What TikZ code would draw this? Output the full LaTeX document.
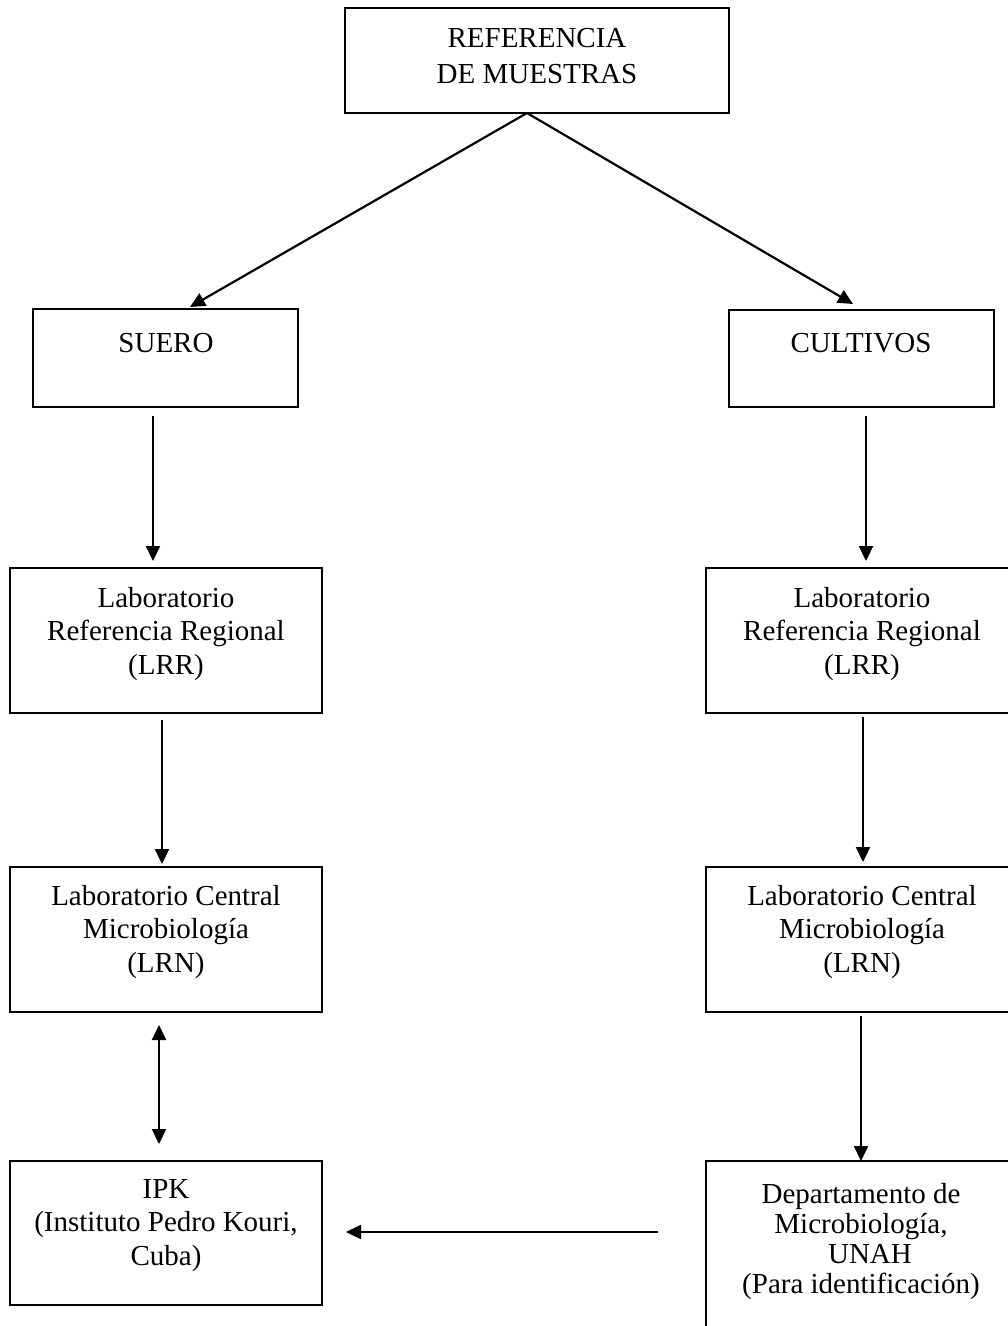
\documentclass[tikz,border=0pt]{standalone}
\usepackage{fontspec}
\setmainfont{Liberation Serif}
\usetikzlibrary{arrows.meta}
\newcommand{\mystrut}{\rule{0pt}{25pt}}
\begin{document}
\begin{tikzpicture}[x=1pt,y=-1pt,
  box/.style={draw, line width=2.4pt, inner sep=0pt, outer sep=0pt},
  txt/.style={inner sep=0pt, anchor=north, align=center,
    font=\fontsize{29}{33.5}\selectfont},
  tipA/.tip={Triangle[length=15pt,width=14pt]},
  arr/.style={line width=2.2pt, -tipA},
  darr/.style={line width=2.2pt, tipA-tipA}]
\useasboundingbox (0,0) rectangle (1008,1326);
\clip (0,0) rectangle (1008,1326);
% boxes
\node[box, minimum width=384pt, minimum height=105pt] (top) at (537,60.5) {};
\node[box, minimum width=265pt, minimum height=98pt] (suero) at (165.5,358) {};
\node[box, minimum width=265pt, minimum height=97pt] (cult) at (861.5,358.5) {};
\node[box, minimum width=312pt, minimum height=145pt] (lrrL) at (166,640.5) {};
\node[box, minimum width=312pt, minimum height=145pt] (lrrR) at (862,640.5) {};
\node[box, minimum width=312pt, minimum height=145pt] (lrnL) at (166,939.5) {};
\node[box, minimum width=312pt, minimum height=145pt] (lrnR) at (862,939.5) {};
\node[box, minimum width=312pt, minimum height=144pt] (ipk) at (166,1233) {};
\node[box, minimum width=312pt, minimum height=180pt] (depto) at (862,1251) {};
% texts
\node[txt, font=\fontsize{29}{36}\selectfont] (ttop) at (537,22) {\mystrut REFERENCIA\\DE MUESTRAS};
\node[txt] (tsuero) at (166,327) {\mystrut SUERO};
\node[txt] (tcult) at (861,327) {\mystrut CULTIVOS};
\node[txt] (tlrrL) at (166,582) {\mystrut Laboratorio\\Referencia Regional\\(LRR)};
\node[txt] (tlrrR) at (862,582) {\mystrut Laboratorio\\Referencia Regional\\(LRR)};
\node[txt] (tlrnL) at (166,880) {\mystrut Laboratorio Central\\Microbiología\\(LRN)};
\node[txt] (tlrnR) at (862,880) {\mystrut Laboratorio Central\\Microbiología\\(LRN)};
\node[txt] (tipk) at (166,1173) {\mystrut IPK\\(Instituto Pedro Kouri,\\Cuba)};
\node[txt, font=\fontsize{29}{30}\selectfont] (tdepto) at (861,1178) {\mystrut Departamento de\\Microbiología,\\\hspace*{18pt}UNAH\\(Para identificación)};
% connectors
\draw[arr] ([xshift=-10pt]top.south) -- ([xshift=24.5pt,yshift=2pt]suero.north);
\draw[arr] ([xshift=-10pt]top.south) -- ([xshift=-8.5pt,yshift=6pt]cult.north);
\draw[arr] ([xshift=-12.5pt,yshift=-9pt]suero.south) -- ([xshift=-13pt,yshift=7pt]lrrL.north);
\draw[arr] ([xshift=4.5pt,yshift=-9pt]cult.south) -- ([xshift=4pt,yshift=7pt]lrrR.north);
\draw[arr] ([xshift=-4pt,yshift=-7pt]lrrL.south) -- ([xshift=-4pt,yshift=3pt]lrnL.north);
\draw[arr] ([xshift=1pt,yshift=-4pt]lrrR.south) -- ([xshift=1pt,yshift=5pt]lrnR.north);
\draw[darr] ([xshift=-7pt,yshift=-13pt]lrnL.south) -- ([xshift=-7pt,yshift=17pt]ipk.north);
\draw[arr] ([xshift=-1pt,yshift=-4pt]lrnR.south) -- ([xshift=-1pt]depto.north);
\draw[arr] ([xshift=-48pt,yshift=19pt]depto.west) -- ([xshift=24pt,yshift=1pt]ipk.east);
\end{tikzpicture}
\end{document}
